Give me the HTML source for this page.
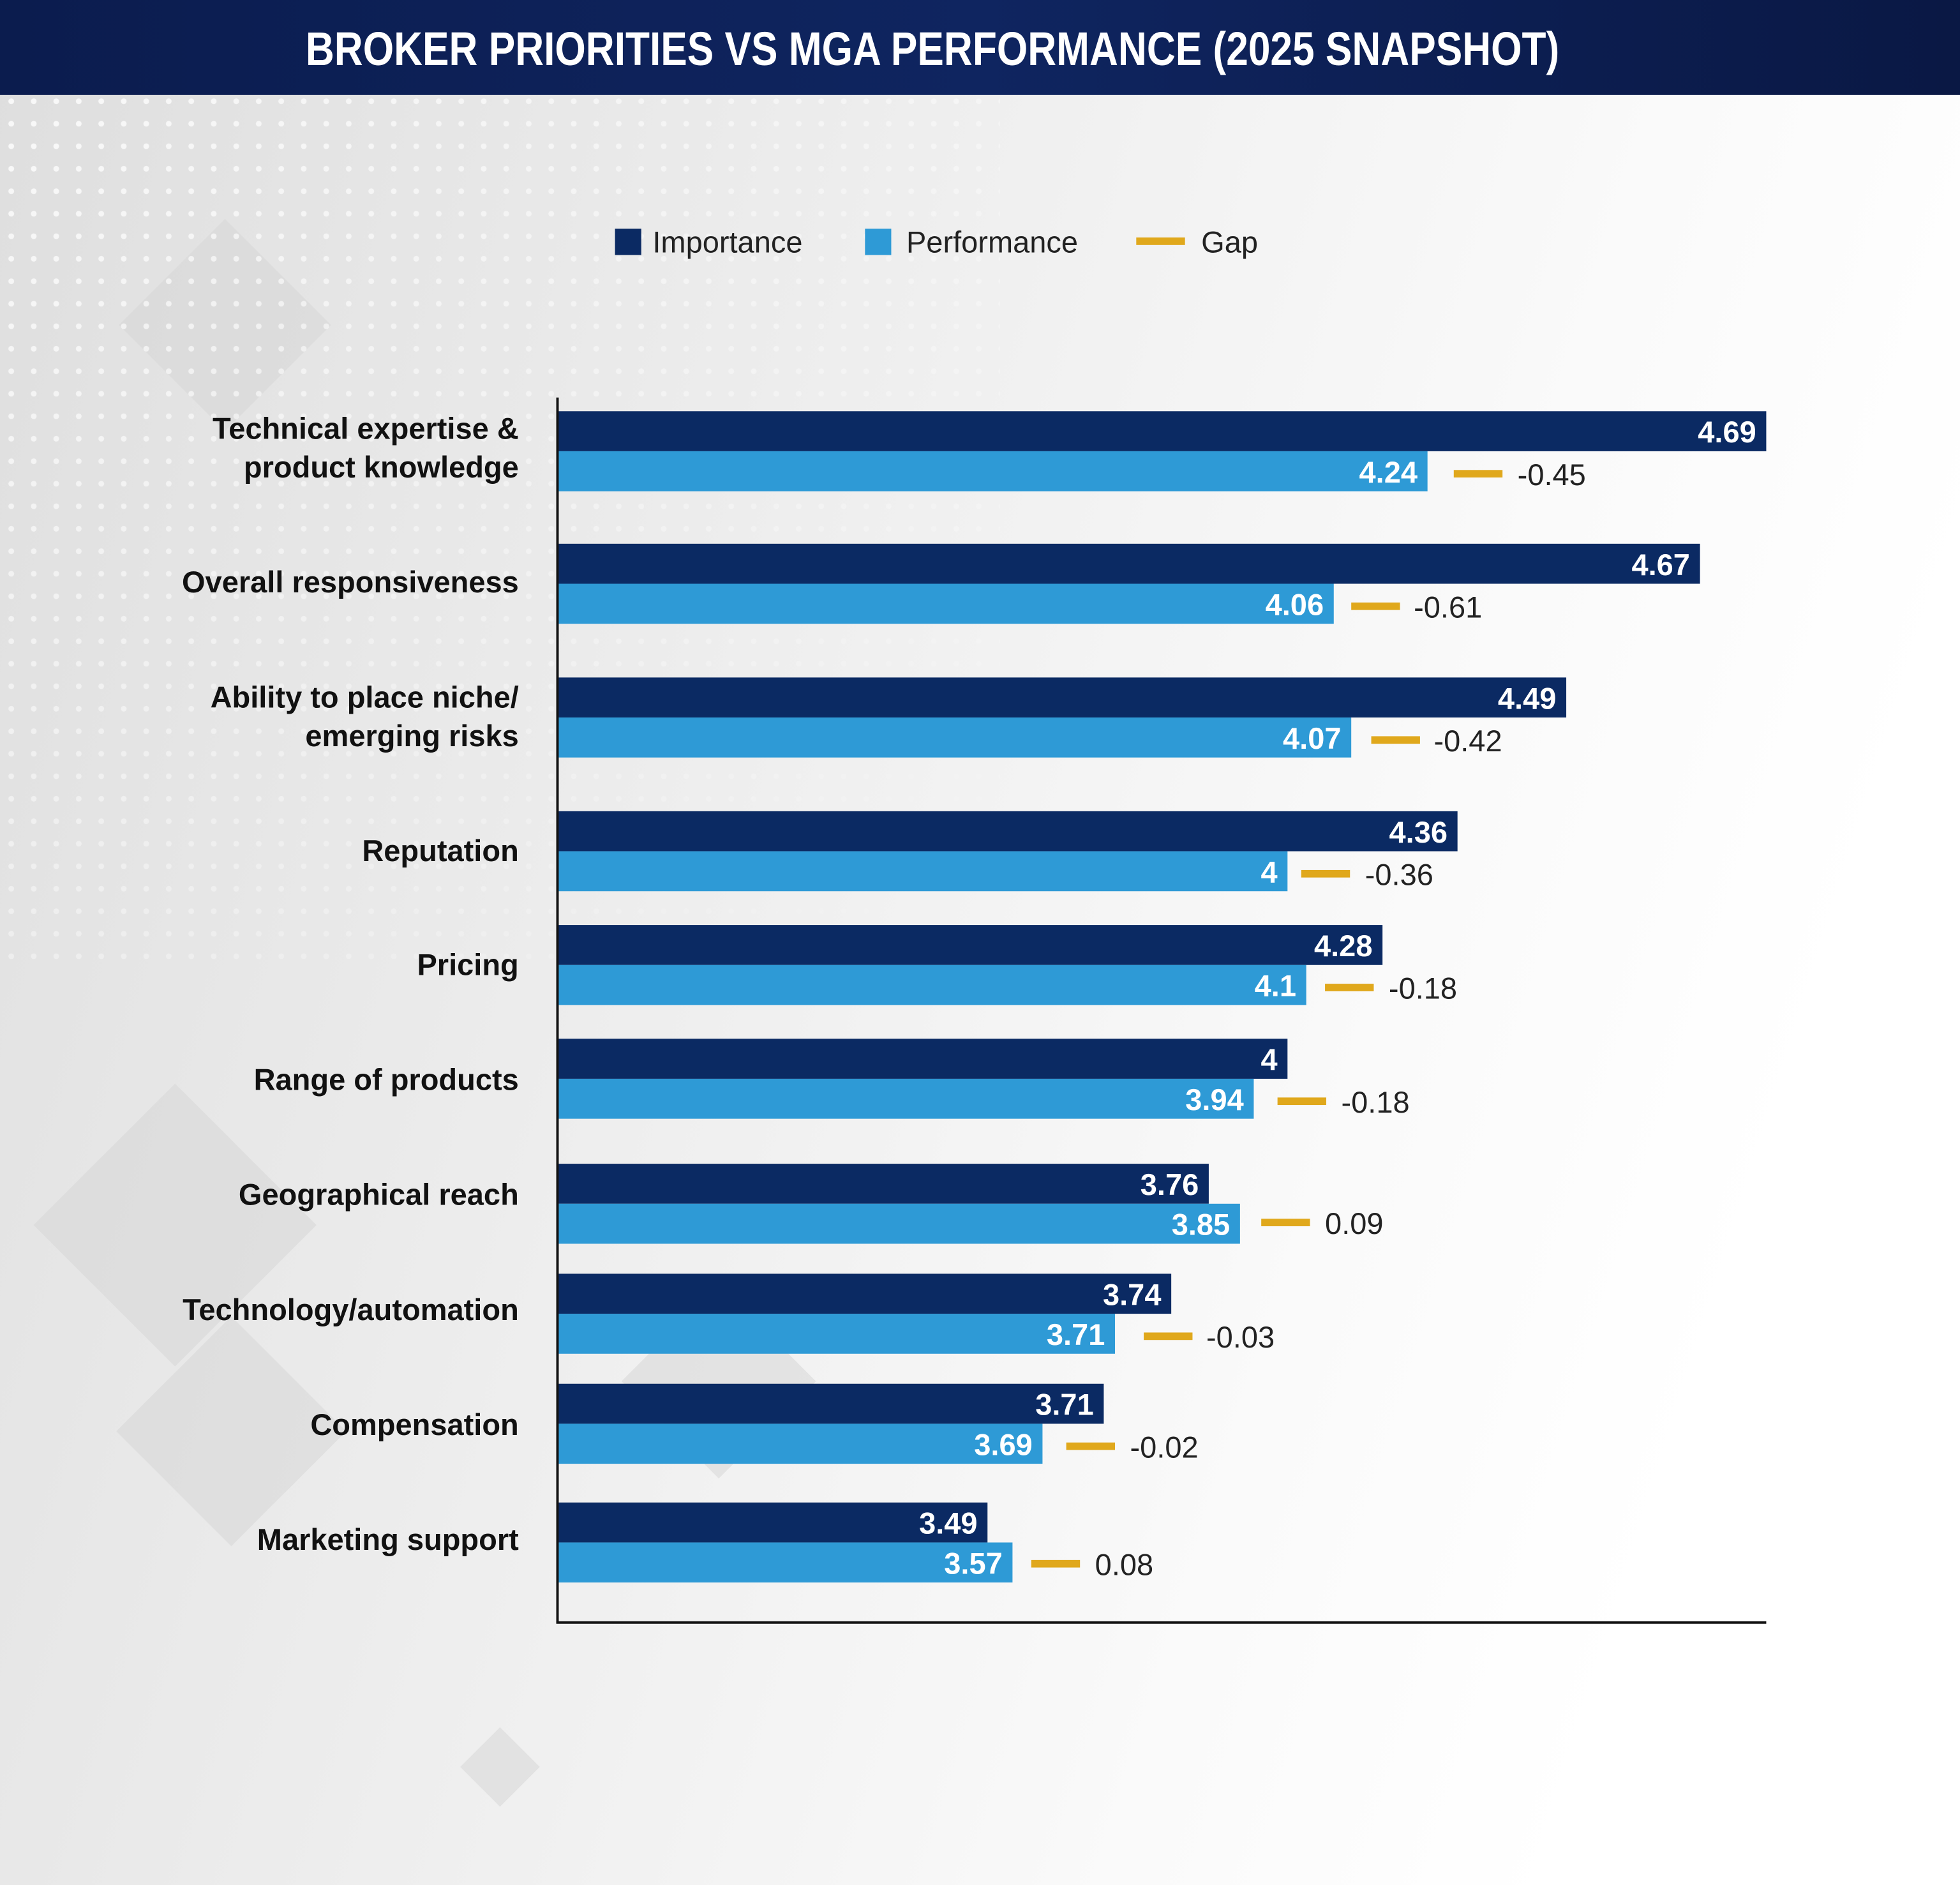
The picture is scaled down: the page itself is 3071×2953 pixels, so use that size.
<!DOCTYPE html>
<html><head><meta charset="utf-8"><style>
html,body{margin:0;padding:0;width:3071px;height:2953px;overflow:hidden;background:#fff}
svg{display:block}
</style></head><body>
<svg width="3071" height="2953" viewBox="0 0 1568 1508" preserveAspectRatio="none" xmlns="http://www.w3.org/2000/svg" font-family="Liberation Sans, sans-serif">
<defs>
<linearGradient id="bg" x1="0" y1="0" x2="1" y2="0.3">
<stop offset="0" stop-color="#dedede"/><stop offset="0.45" stop-color="#eeeeee"/><stop offset="0.8" stop-color="#fafafa"/><stop offset="1" stop-color="#ffffff"/>
</linearGradient>
<linearGradient id="tb" x1="0" y1="0" x2="1" y2="0">
<stop offset="0" stop-color="#0b1c4e"/><stop offset="0.5" stop-color="#0f2560"/><stop offset="1" stop-color="#0a1844"/>
</linearGradient>
<pattern id="dots" width="18" height="18" patternUnits="userSpaceOnUse"><circle cx="9" cy="9" r="2.3" fill="#ffffff" opacity="0.8"/></pattern>
<linearGradient id="fade" x1="0" y1="0" x2="1" y2="1"><stop offset="0" stop-color="#fff" stop-opacity="1"/><stop offset="1" stop-color="#fff" stop-opacity="0"/></linearGradient>
<mask id="dm"><rect x="0" y="76" width="800" height="700" fill="url(#fade)"/></mask>
</defs>
<rect width="1568" height="1508" fill="url(#bg)"/>
<g fill="#d4d4d4" opacity="0.5">
<rect x="120" y="200" width="120" height="120" transform="rotate(45 180 260)"/>
<rect x="60" y="900" width="160" height="160" transform="rotate(45 140 980)"/>
<rect x="120" y="1080" width="130" height="130" transform="rotate(45 185 1145)"/>
<rect x="520" y="1050" width="110" height="110" transform="rotate(45 575 1105)"/>
<rect x="380" y="1390" width="45" height="45" transform="rotate(45 400 1410)"/>
</g>
<rect x="0" y="76" width="800" height="700" fill="url(#dots)" mask="url(#dm)"/>
<rect x="0" y="0" width="1568" height="76" fill="url(#tb)"/>
<text x="746" y="52" text-anchor="middle" fill="#fff" font-weight="bold" font-size="38" textLength="1003" lengthAdjust="spacingAndGlyphs">BROKER PRIORITIES VS MGA PERFORMANCE (2025 SNAPSHOT)</text>
<!-- legend -->
<rect x="492" y="183" width="21" height="21" fill="#0b2a63"/>
<text x="522" y="202" font-size="24" fill="#222">Importance</text>
<rect x="692" y="183" width="21" height="21" fill="#2e9ad6"/>
<text x="725" y="202" font-size="24" fill="#222">Performance</text>
<rect x="909" y="190" width="39" height="6" fill="#e0a81c"/>
<text x="961" y="202" font-size="24" fill="#222">Gap</text>
<!-- axes -->
<line x1="446" y1="318" x2="446" y2="1298" stroke="#111" stroke-width="2"/>
<line x1="445" y1="1298" x2="1413" y2="1298" stroke="#111" stroke-width="2"/>
<g font-size="24" font-weight="bold">
<!-- rows -->
<g fill="#0b2a63">
<rect x="447" y="329" width="966" height="32"/>
<rect x="447" y="435" width="913" height="32"/>
<rect x="447" y="542" width="806" height="32"/>
<rect x="447" y="649" width="719" height="32"/>
<rect x="447" y="740" width="659" height="32"/>
<rect x="447" y="831" width="583" height="32"/>
<rect x="447" y="931" width="520" height="32"/>
<rect x="447" y="1019" width="490" height="32"/>
<rect x="447" y="1107" width="436" height="32"/>
<rect x="447" y="1202" width="343" height="32"/>
</g>
<g fill="#2e9ad6">
<rect x="447" y="361" width="695" height="32"/>
<rect x="447" y="467" width="620" height="32"/>
<rect x="447" y="574" width="634" height="32"/>
<rect x="447" y="681" width="583" height="32"/>
<rect x="447" y="772" width="598" height="32"/>
<rect x="447" y="863" width="556" height="32"/>
<rect x="447" y="963" width="545" height="32"/>
<rect x="447" y="1051" width="445" height="32"/>
<rect x="447" y="1139" width="387" height="32"/>
<rect x="447" y="1234" width="363" height="32"/>
</g>
<g fill="#fff" text-anchor="end">
<text x="1405" y="354">4.69</text><text x="1134" y="386">4.24</text>
<text x="1352" y="460">4.67</text><text x="1059" y="492">4.06</text>
<text x="1245" y="567">4.49</text><text x="1073" y="599">4.07</text>
<text x="1158" y="674">4.36</text><text x="1022" y="706">4</text>
<text x="1098" y="765">4.28</text><text x="1037" y="797">4.1</text>
<text x="1022" y="856">4</text><text x="995" y="888">3.94</text>
<text x="959" y="956">3.76</text><text x="984" y="988">3.85</text>
<text x="929" y="1044">3.74</text><text x="884" y="1076">3.71</text>
<text x="875" y="1132">3.71</text><text x="826" y="1164">3.69</text>
<text x="782" y="1227">3.49</text><text x="802" y="1259">3.57</text>
</g>
<g fill="#111" text-anchor="end">
<text x="415" y="351">Technical expertise &amp;</text>
<text x="415" y="382">product knowledge</text>
<text x="415" y="474">Overall responsiveness</text>
<text x="415" y="566">Ability to place niche/</text>
<text x="415" y="597">emerging risks</text>
<text x="415" y="689">Reputation</text>
<text x="415" y="780">Pricing</text>
<text x="415" y="872">Range of products</text>
<text x="415" y="964">Geographical reach</text>
<text x="415" y="1056">Technology/automation</text>
<text x="415" y="1148">Compensation</text>
<text x="415" y="1240">Marketing support</text>
</g>
</g>
<g fill="#e0a81c">
<rect x="1163" y="376" width="39" height="6"/>
<rect x="1081" y="482" width="39" height="6"/>
<rect x="1097" y="589" width="39" height="6"/>
<rect x="1041" y="696" width="39" height="6"/>
<rect x="1060" y="787" width="39" height="6"/>
<rect x="1022" y="878" width="39" height="6"/>
<rect x="1009" y="975" width="39" height="6"/>
<rect x="915" y="1066" width="39" height="6"/>
<rect x="853" y="1154" width="39" height="6"/>
<rect x="825" y="1248" width="39" height="6"/>
</g>
<g font-size="24" fill="#222">
<text x="1214" y="388">-0.45</text>
<text x="1131" y="494">-0.61</text>
<text x="1147" y="601">-0.42</text>
<text x="1092" y="708">-0.36</text>
<text x="1111" y="799">-0.18</text>
<text x="1073" y="890">-0.18</text>
<text x="1060" y="987">0.09</text>
<text x="965" y="1078">-0.03</text>
<text x="904" y="1166">-0.02</text>
<text x="876" y="1260">0.08</text>
</g>
</svg>
</body></html>
